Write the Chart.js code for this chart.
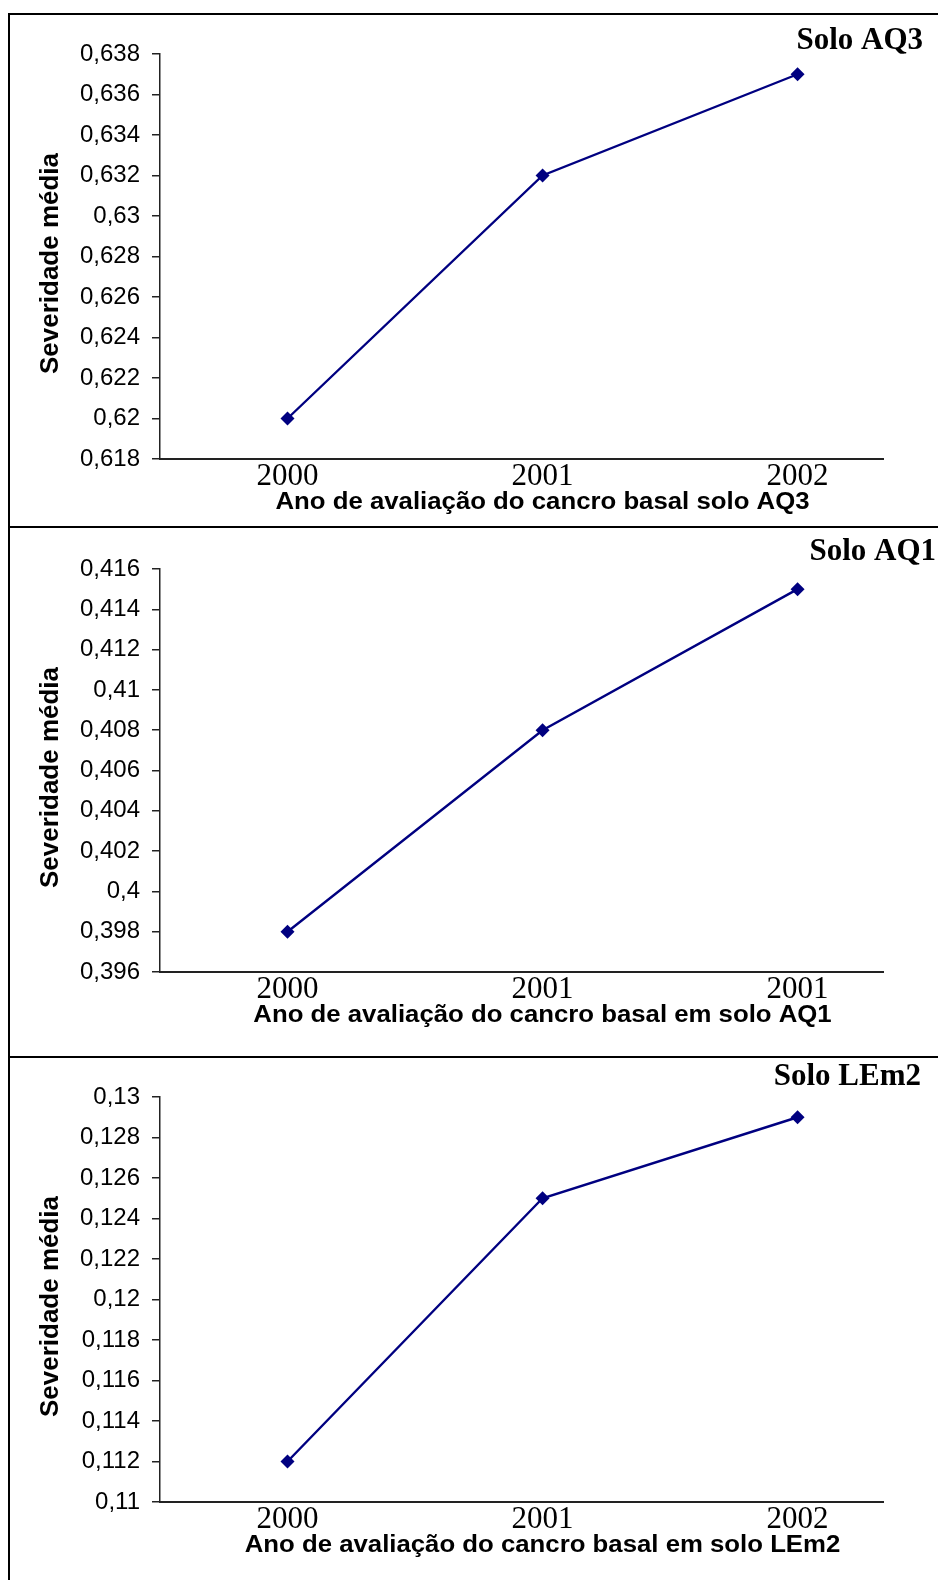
<!DOCTYPE html>
<html>
<head>
<meta charset="utf-8">
<title>Severidade média do cancro basal</title>
<script src="https://cdn.jsdelivr.net/npm/chart.js@4.4.1/dist/chart.umd.min.js"></script>
<style>
  body { margin: 0; background: #fff; }
  #page { position: relative; width: 938px; height: 1580px; overflow: hidden; }
  .rule { position: absolute; left: 8px; width: 940px; height: 2px; background: #000; }
  .side { position: absolute; left: 8px; top: 13px; width: 2px; height: 1600px; background: #000; }
  .box { position: absolute; left: 0; width: 938px; height: 513px; }
</style>
</head>
<body>
<div id="page">
  <div class="side"></div>
  <div class="rule" style="top:13px"></div>
  <div class="rule" style="top:526px"></div>
  <div class="rule" style="top:1056px"></div>
  <div class="box" style="top:14px"><canvas id="chartAQ3"></canvas></div>
  <div class="box" style="top:527px"><canvas id="chartAQ1"></canvas></div>
  <div class="box" style="top:1057px"><canvas id="chartLEm2"></canvas></div>
</div>
<script>
// year labels under each evaluation (the AQ1 panel repeats 2001 in the original)
const yearsAQ3 = ['2000', '2001', '2002'];
const yearsAQ1 = ['2000', '2001', '2001'];
const yearsLEm2 = ['2000', '2001', '2002'];

// mean severity per year
const severityAQ3 = [0.620, 0.632, 0.637];
const severityAQ1 = [0.398, 0.408, 0.415];
const severityLEm2 = [0.112, 0.125, 0.129];

// y tick values
const ticksAQ3 = [0.618, 0.620, 0.622, 0.624, 0.626, 0.628, 0.630, 0.632, 0.634, 0.636, 0.638];
const ticksAQ1 = [0.396, 0.398, 0.400, 0.402, 0.404, 0.406, 0.408, 0.410, 0.412, 0.414, 0.416];
const ticksLEm2 = [0.110, 0.112, 0.114, 0.116, 0.118, 0.120, 0.122, 0.124, 0.126, 0.128, 0.130];

const yTitle = 'Severidade média';

// comma decimals, no trailing zeros
function fmt(v) {
    return String(+v.toFixed(3)).replace('.', ',');
}

// soil name in the top right corner of each panel
const panelName = {
    id: 'panelName',
    afterDraw(chart, args, opts) {
        const ctx = chart.ctx;
        ctx.save();
        ctx.font = 'bold 31px "Liberation Serif"';
        ctx.fillStyle = '#000';
        ctx.textAlign = 'right';
        ctx.textBaseline = 'alphabetic';
        ctx.fillText(opts.text, opts.right, opts.baseline);
        ctx.restore();
    }
};

// axis titles sit a bit off-centre in the original, and the x one is drawn wide
const titleNudge = {
    id: 'titleNudge',
    beforeDraw(chart, args, opts) {
        ['x', 'y'].forEach(id => {
            const scale = chart.scales[id];
            if (scale._nudged) return;
            const o = opts[id];
            const drawTitle = scale.drawTitle;
            scale.drawTitle = function () {
                const cx = (this.left + this.right) / 2;
                this.ctx.save();
                this.ctx.translate(cx + o.dx, o.dy);
                this.ctx.scale(o.sx, 1);
                this.ctx.translate(-cx, 0);
                drawTitle.call(this);
                this.ctx.restore();
            };
            scale._nudged = true;
        });
    }
};

function makeChart(id, years, values, yTicks, xTitle, name, nameRight, nameBaseline, padTop) {
    const ctx = document.getElementById(id).getContext('2d');
    return new Chart(ctx, {
        type: 'line',
        data: {
            datasets: [{
                data: values.map((v, i) => ({ x: i, y: v })),
                borderColor: '#000080',
                backgroundColor: '#000080',
                borderWidth: 2.4,
                pointStyle: 'rectRot',
                pointRadius: 7,
                pointBorderWidth: 0,
                tension: 0
            }]
        },
        options: {
            responsive: true,
            maintainAspectRatio: false,
            animation: false,
            layout: { padding: { top: padTop, right: 55, bottom: 0, left: 0 } },
            plugins: {
                legend: { display: false },
                tooltip: { enabled: false },
                panelName: { text: name, right: nameRight, baseline: nameBaseline },
                titleNudge: {
                    x: { dx: 21, dy: 0, sx: 1.12 },
                    y: { dx: 0, dy: 7, sx: 1 }
                }
            },
            scales: {
                x: {
                    type: 'linear',
                    min: -0.5,
                    max: 2.335,
                    afterBuildTicks: s => { s.ticks = years.map((y, i) => ({ value: i })); },
                    afterFit: s => { s.height = 68; },
                    grid: { display: false, drawTicks: false },
                    border: { color: '#222', width: 2 },
                    ticks: {
                        padding: -1,
                        color: '#000',
                        maxRotation: 0,
                        autoSkip: false,
                        font: { family: 'Liberation Serif', size: 31 },
                        callback: v => years[v]
                    },
                    title: {
                        display: true,
                        text: xTitle,
                        color: '#000',
                        font: { family: 'Liberation Sans', size: 23, weight: 'bold' },
                        padding: { top: 0, bottom: 11 }
                    }
                },
                y: {
                    min: yTicks[0],
                    max: yTicks[yTicks.length - 1],
                    afterBuildTicks: s => { s.ticks = yTicks.map(v => ({ value: v })); },
                    afterFit: s => { s.width = 160; },
                    grid: { drawOnChartArea: false, drawTicks: true, tickLength: 8, color: '#222', lineWidth: 1.5 },
                    border: { color: '#222', width: 1.5 },
                    ticks: {
                        padding: 12,
                        color: '#000',
                        font: { family: 'Liberation Sans', size: 24 },
                        callback: v => fmt(v)
                    },
                    title: {
                        display: true,
                        text: yTitle,
                        color: '#000',
                        font: { family: 'Liberation Sans', size: 26, weight: 'bold' },
                        padding: { top: 35, bottom: 0 }
                    }
                }
            }
        },
        plugins: [panelName, titleNudge]
    });
}

makeChart('chartAQ3', yearsAQ3, severityAQ3, ticksAQ3,
    'Ano de avaliação do cancro basal solo AQ3', 'Solo AQ3', 923, 35, 40);
makeChart('chartAQ1', yearsAQ1, severityAQ1, ticksAQ1,
    'Ano de avaliação do cancro basal em solo AQ1', 'Solo AQ1', 936, 33, 42);
makeChart('chartLEm2', yearsLEm2, severityLEm2, ticksLEm2,
    'Ano de avaliação do cancro basal em solo LEm2', 'Solo LEm2', 921, 28, 40);
</script>
</body>
</html>
